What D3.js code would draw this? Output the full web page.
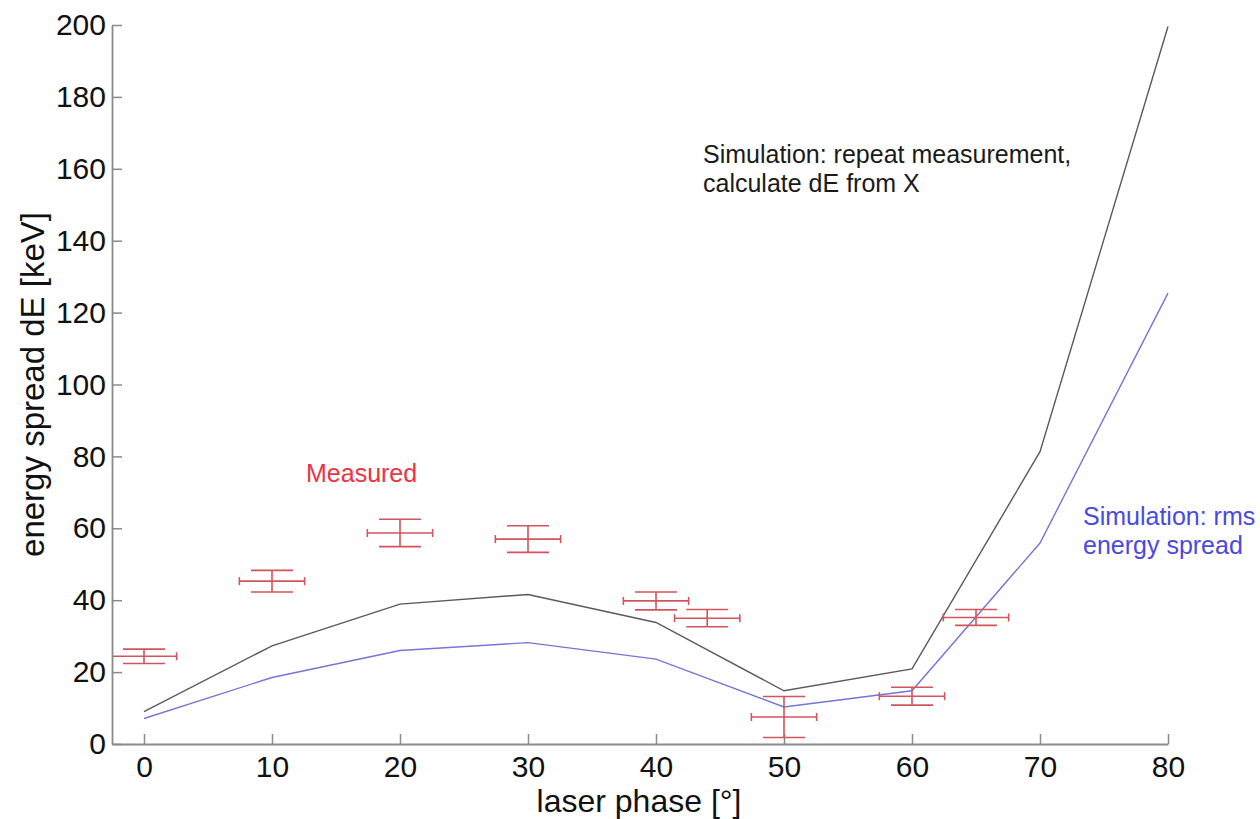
<!DOCTYPE html>
<html>
<head>
<meta charset="utf-8">
<script src="https://cdn.jsdelivr.net/npm/d3@7"></script>
<style>
  body { margin: 0; background: #fff; }
  text { font-family: "Liberation Sans", Arial, sans-serif; }
</style>
</head>
<body>
<div id="chart"></div>
<script>
// simulation curves
var simPhase = [0, 10, 20, 30, 40, 50, 60, 70, 80];
var simRepeat = [9.0, 27.3, 38.9, 41.6, 33.8, 14.8, 20.9, 81.3, 199.6];
var simRms = [7.1, 18.5, 26.0, 28.2, 23.6, 10.3, 14.8, 55.9, 125.4];

// measured points with error bars
var measPhase = [0, 10, 20, 30, 40, 44, 50, 60, 65];
var measDE = [24.4, 45.3, 58.7, 57.0, 39.8, 35.0, 7.5, 13.3, 35.2];
var measErr = [2.0, 3.0, 3.8, 3.7, 2.5, 2.4, 5.7, 2.5, 2.2];
var measPhaseErr = [2.55, 2.55, 2.55, 2.55, 2.55, 2.55, 2.55, 2.55, 2.55];

var xTicks = [0, 10, 20, 30, 40, 50, 60, 70, 80];
var yTicks = [0, 20, 40, 60, 80, 100, 120, 140, 160, 180, 200];

var W = 1260, H = 819;
var margin = {left: 112, right: 92, top: 25, bottom: 75};
var width = W - margin.left - margin.right;
var height = H - margin.top - margin.bottom;

var x = d3.scaleLinear().domain([-2.5, 80]).range([0, width]);
var y = d3.scaleLinear().domain([0, 200]).range([height, 0]);

var svg = d3.select("#chart").append("svg")
    .attr("width", W)
    .attr("height", H);

var g = svg.append("g").attr("transform", "translate(" + margin.left + "," + margin.top + ")");

svg.append("defs").append("clipPath").attr("id", "plotclip")
    .append("rect").attr("x", 1).attr("y", -5).attr("width", width + 5).attr("height", height + 5);

// axes - inward ticks like matlab
var xaxis = d3.axisBottom(x).tickValues(xTicks).tickSizeInner(-10).tickSizeOuter(0).tickPadding(12);
var yaxis = d3.axisLeft(y).tickValues(yTicks).tickSizeInner(-10).tickSizeOuter(0).tickPadding(6);

var gx = g.append("g")
    .attr("transform", "translate(0," + height + ")")
    .call(xaxis);
var gy = g.append("g").call(yaxis);

[gx, gy].forEach(function(a){
    a.select(".domain").attr("stroke", "#8a8a8a").attr("stroke-width", 1.8);
    a.selectAll(".tick line").attr("stroke", "#8a8a8a").attr("stroke-width", 1.5);
    a.selectAll(".tick text").attr("fill", "#111").style("font-size", "30px");
});
gx.selectAll(".tick text").attr("dy", "0.71em");

// lines
var line = d3.line()
    .x(function(d) { return x(d[0]); })
    .y(function(d) { return y(d[1]); });

var plot = g.append("g").attr("clip-path", "url(#plotclip)");

plot.append("path")
    .datum(d3.zip(simPhase, simRepeat))
    .attr("fill", "none")
    .attr("stroke", "#5a5a5a")
    .attr("stroke-width", 1.4)
    .attr("d", line);

plot.append("path")
    .datum(d3.zip(simPhase, simRms))
    .attr("fill", "none")
    .attr("stroke", "#7575d6")
    .attr("stroke-width", 1.4)
    .attr("d", line);

// error bars
var meas = measPhase.map(function(p, i){
    return {x: p, y: measDE[i], e: measErr[i], ex: measPhaseErr[i]};
});

var red = "#d2555c";
var bars = plot.selectAll(".ebar")
    .data(meas)
    .enter().append("g")
    .attr("class", "ebar")
    .attr("stroke", red)
    .attr("stroke-width", 1.6)
    .attr("fill", "none");

bars.each(function(d){
    var b = d3.select(this);
    var cx = x(d.x), cy = y(d.y);
    var capV = 21, capH = 4;
    // vertical bar + caps
    b.append("line").attr("x1", cx).attr("x2", cx).attr("y1", y(d.y + d.e)).attr("y2", y(d.y - d.e));
    b.append("line").attr("x1", cx - capV).attr("x2", cx + capV).attr("y1", y(d.y + d.e)).attr("y2", y(d.y + d.e));
    b.append("line").attr("x1", cx - capV).attr("x2", cx + capV).attr("y1", y(d.y - d.e)).attr("y2", y(d.y - d.e));
    // horizontal bar + caps
    b.append("line").attr("x1", x(d.x - d.ex)).attr("x2", x(d.x + d.ex)).attr("y1", cy).attr("y2", cy);
    b.append("line").attr("x1", x(d.x - d.ex)).attr("x2", x(d.x - d.ex)).attr("y1", cy - capH).attr("y2", cy + capH);
    b.append("line").attr("x1", x(d.x + d.ex)).attr("x2", x(d.x + d.ex)).attr("y1", cy - capH).attr("y2", cy + capH);
});

// axis labels
svg.append("text")
    .attr("x", 639)
    .attr("y", 812)
    .attr("text-anchor", "middle")
    .attr("fill", "#111")
    .style("font-size", "32px")
    .text("laser phase [°]");

svg.append("text")
    .attr("transform", "translate(44," + (margin.top + y(100)) + ") rotate(-90)")
    .attr("text-anchor", "middle")
    .attr("fill", "#111")
    .style("font-size", "33px")
    .text("energy spread dE [keV]");

// annotations
var notes = [
    {lines: ["Simulation: repeat measurement,", "calculate dE from X"], x: 703, y: 163, color: "#1a1a1a"},
    {lines: ["Measured"], x: 306, y: 482, color: "#ec3344"},
    {lines: ["Simulation: rms", "energy spread"], x: 1083, y: 525, color: "#4a4ae0"}
];
notes.forEach(function(n){
    var t = svg.append("text")
        .attr("x", n.x).attr("y", n.y)
        .attr("fill", n.color)
        .style("font-size", "25px");
    n.lines.forEach(function(s, i){
        t.append("tspan").attr("x", n.x).attr("dy", i === 0 ? 0 : 29).text(s);
    });
});
</script>
</body>
</html>
